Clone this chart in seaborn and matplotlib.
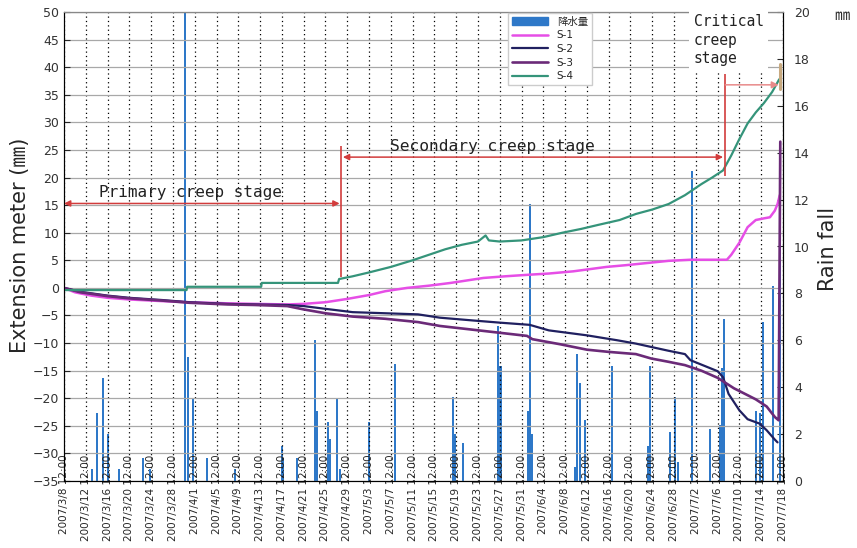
import numpy as np
import pandas as pd
import seaborn as sns
import matplotlib.pyplot as plt
from matplotlib.patches import Patch
from matplotlib.lines import Line2D

# x values are days after 2007/3/8 12:00
start = pd.Timestamp('2007-03-08 12:00')

s1_day = [0, 2, 5, 8, 12, 18, 23, 30, 35, 41, 44, 48, 52, 56, 59, 63, 67, 71, 77, 81, 85.6, 89,
          93.5, 99.6, 103, 107, 111, 115, 119, 121.7, 122.5, 124, 125.5, 127, 128.5, 129.6, 130.5, 131, 131.4]
s1_val = [0, -0.8, -1.4, -1.8, -2.1, -2.4, -2.6, -2.8, -2.9, -3.0, -2.9, -2.6, -2.0, -1.3, -0.6, 0, 0.4,
          0.9, 1.8, 2.1, 2.4, 2.6, 3.0, 3.8, 4.1, 4.5, 4.9, 5.1, 5.1, 5.1, 6.0, 8.2, 11.0, 12.3, 12.6,
          12.8, 14.0, 15.2, 16.8]

s2_day = [0, 3, 8, 12, 18, 23, 30, 35, 41, 44, 48, 53, 59, 65, 69, 75, 80, 85.5, 89, 96, 101.6, 105,
          111, 114, 115, 117, 120, 121, 122, 124, 125.5, 127.7, 129, 130.5, 131]
s2_val = [0, -0.7, -1.4, -1.8, -2.2, -2.6, -2.9, -3.0, -3.1, -3.3, -3.8, -4.4, -4.6, -4.8, -5.4, -5.9,
          -6.3, -6.7, -7.7, -8.6, -9.5, -10.1, -11.4, -12.0, -13.1, -13.9, -15.1, -16.2, -19.2, -22.2,
          -23.8, -24.6, -25.8, -27.5, -28.0]

s3_day = [0, 3, 8, 12, 18, 23, 30, 35, 41, 44, 48, 53, 59, 65, 69, 77, 85, 86, 91, 96, 100, 105, 107.8,
          111, 114, 117, 120, 123, 125, 127, 129, 130.5, 131.2, 131.5]
s3_val = [0, -0.8, -1.5, -1.9, -2.3, -2.7, -3.0, -3.1, -3.3, -3.9, -4.6, -5.2, -5.6, -6.2, -6.9, -7.8,
          -8.7, -9.3, -10.2, -11.2, -11.6, -12.0, -12.8, -13.4, -14.0, -15.0, -16.3, -18.2, -19.2,
          -20.2, -21.5, -23.4, -24.0, 26.5]

s4_day = [0, 22.5, 22.6, 36.2, 36.3, 50.3, 50.5, 53, 56, 60, 64, 67, 70, 73, 76, 77.4, 78, 80, 84, 88,
          91.5, 95, 98, 102, 105, 108, 111, 114, 117, 119, 121, 122.5, 124, 125.5, 127, 128.5, 130, 131.3]
s4_val = [-0.4, -0.4, 0.2, 0.2, 0.9, 0.9, 1.6, 2.1, 2.8, 3.8, 5.0, 6.0, 7.0, 7.8, 8.4, 9.5, 8.6, 8.4,
          8.6, 9.2, 10.0, 10.7, 11.4, 12.3, 13.4, 14.2, 15.2, 16.8, 18.8, 20.0, 21.3, 24.0, 27.0, 29.8,
          31.8, 33.5, 35.5, 37.8]

rain_day = [5.1, 6.1, 7.2, 8.1, 10.1, 14.5, 15.8, 22.2, 22.8, 23.7, 26.3, 31.4,
            40.0, 40.2, 42.8, 46.1, 46.4, 48.5, 48.8, 50.1, 50.7, 56.0, 60.8,
            71.4, 71.8, 73.3, 79.7, 80.1, 85.3, 85.6, 85.9, 93.9, 94.2, 94.7, 95.6,
            100.6, 107.3, 107.6, 111.3, 112.2, 112.7, 115.3, 118.6, 120.4, 120.8, 121.2,
            127.0, 127.8, 128.3, 130.2, 131.4]
rain_mm = [0.5, 2.9, 4.4, 2.0, 0.5, 1.0, 0.5, 21.0, 5.3, 3.5, 1.0, 0.5,
           1.5, 1.0, 1.0, 6.0, 3.0, 2.5, 1.8, 3.5, 0.5, 2.5, 5.0,
           3.6, 2.0, 1.6, 6.6, 4.9, 3.0, 11.8, 2.0, 0.6, 5.4, 4.2, 2.6,
           4.9, 1.5, 4.9, 2.1, 3.6, 0.8, 13.2, 2.2, 2.4, 4.8, 6.9,
           3.0, 2.9, 6.8, 8.3, 14.0]

tan_mark = [36.0, 40.5]

series_names = ['S-1', 'S-2', 'S-3', 'S-4']
series_colors = ['#e64ee6', '#202060', '#6b2a78', '#35947a']
series_widths = [1.8, 1.6, 1.9, 1.6]

tick_days = np.arange(0, 133, 4)
tick_labels = [f'{d.year}/{d.month}/{d.day} 12:00' for d in start + pd.to_timedelta(tick_days, unit='D')]

red = '#d23c3c'
rain_color = '#2e78c8'

sns.set_style('white')
plt.rcParams['font.family'] = ['DejaVu Sans', 'Noto Sans CJK JP']

fig = plt.figure(figsize=(8.57, 5.48), dpi=100)
ax = fig.add_axes([64 / 857, 1 - 481 / 548, 719 / 857, 469 / 548])
ax2 = ax.twinx()
ax.set_zorder(2)
ax2.set_zorder(1)
ax.patch.set_visible(False)

# rainfall bars on the right axis
ax2.bar(rain_day, rain_mm, width=0.45, color=rain_color, linewidth=0)
ax2.set_ylim(0, 20)
ax2.set_yticks(range(0, 21, 2))
ax2.tick_params(axis='y', direction='in', length=4, labelsize=9, labelcolor='#333333', pad=8)

# extension meter lines
data = [(s1_day, s1_val), (s2_day, s2_val), (s3_day, s3_val), (s4_day, s4_val)]
for (dd, vv), name, col, lw in zip(data, series_names, series_colors, series_widths):
    df = pd.DataFrame({'day': dd, 'val': vv})
    sns.lineplot(data=df, x='day', y='val', color=col, linewidth=lw, estimator=None, ax=ax)

ax.plot([131.5, 131.5], tan_mark, color='#c8aa80', lw=2.2)

ax.set_xlim(0, 132)
ax.set_ylim(-35, 50)
ax.set_yticks(range(-35, 51, 5))
ax.set_xticks(tick_days)
ax.set_xticklabels(tick_labels, rotation=90)
ax.set_xlabel('')
ax.set_ylabel('')
ax.tick_params(axis='x', labelsize=7.5, pad=-19, length=0)
ax.tick_params(axis='y', direction='in', length=4, labelsize=9, labelcolor='#333333')
ax.grid(axis='y', color='#a8a8a8', lw=0.9)
ax.grid(axis='x', color='black', lw=0.9, linestyle=(0, (1, 2.5)))
for sp in ['left', 'right', 'bottom']:
    ax.spines[sp].set_color('black')
ax.spines['top'].set_color('#888888')

# stage annotations
arrow = dict(arrowstyle='<|-|>', color=red, lw=1.1, mutation_scale=9, shrinkA=0, shrinkB=0)
ax.annotate('', xy=(50.6, 15.3), xytext=(0, 15.3), arrowprops=arrow, annotation_clip=False)
ax.annotate('', xy=(121.0, 23.7), xytext=(51.2, 23.7), arrowprops=arrow)
ax.annotate('', xy=(131.2, 36.8), xytext=(121.4, 36.8),
            arrowprops=dict(arrowstyle='-|>', color='#e88a8a', lw=1.1, mutation_scale=10,
                            shrinkA=0, shrinkB=0))
ax.vlines(50.9, 2.0, 25.8, color=red, lw=1.2)
ax.vlines(121.4, 20.2, 38.8, color=red, lw=1.2)

mono = 'DejaVu Sans Mono'
ax.text(23.3, 17.3, 'Primary creep stage', family=mono, fontsize=11.5, ha='center', va='center',
        color='#222222')
ax.text(78.6, 25.7, 'Secondary creep stage', family=mono, fontsize=11.7, ha='center', va='center',
        color='#222222')
ax.text(115.6, 49.6, 'Critical\ncreep\nstage', family=mono, fontsize=10.5, ha='left', va='top',
        linespacing=1.3, color='#222222', clip_on=False, zorder=10,
        bbox=dict(facecolor='white', edgecolor='none', pad=3))

# legend
handles = [Patch(color=rain_color)] + [Line2D([], [], color=c, lw=w)
                                       for c, w in zip(series_colors, series_widths)]
ax.legend(handles, ['降水量'] + series_names, loc='upper left', bbox_to_anchor=(0.61, 1.01),
          fontsize=7.5, handlelength=3.5, frameon=True, fancybox=False, edgecolor='#cccccc',
          framealpha=1, borderpad=0.4, labelspacing=0.35)

fig.text(0.023, 0.553, 'Extension meter (㎜)', rotation=90, fontsize=15, ha='center', va='center')
fig.text(0.966, 0.545, 'Rain fall', rotation=90, fontsize=15, ha='center', va='center')
fig.text(0.982, 0.972, '㎜', fontsize=11, ha='center', va='center')

fig.savefig('out.png', dpi=100, facecolor='white')
